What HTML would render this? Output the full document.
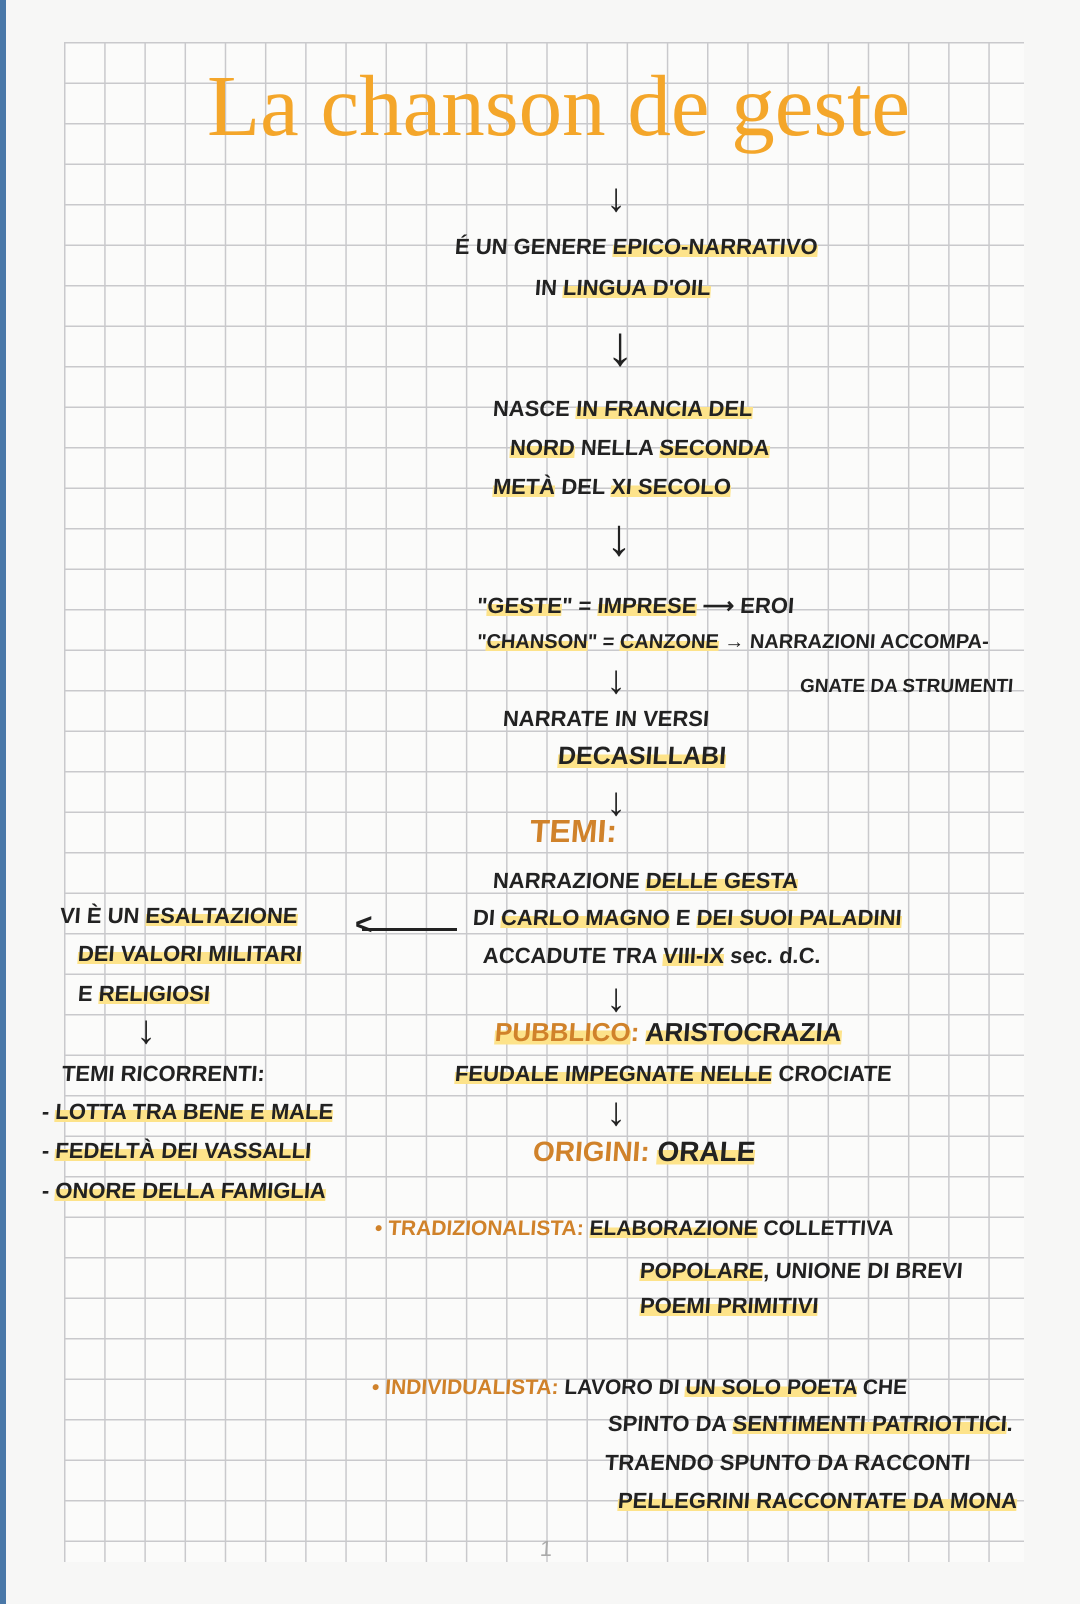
<!DOCTYPE html>
<html><head><meta charset="utf-8"><style>
body{margin:0;width:1080px;height:1604px;background:#f7f7f6;position:relative;overflow:hidden;font-family:"Liberation Sans",sans-serif;}
.bl{position:absolute;left:0;top:0;width:6px;height:1604px;background:#4a78a8}
.grid{position:absolute;left:64px;top:42px;width:960px;height:1520px;background-color:#fbfbfa;
background-image:linear-gradient(to right,#c9c9cc 1.5px,transparent 1.5px),linear-gradient(to bottom,#c9c9cc 1.5px,transparent 1.5px);
background-size:40.2px 40.5px;}
.t{position:absolute;color:#222;font-size:22px;font-weight:bold;white-space:nowrap;transform:skewX(-4deg);line-height:25px}
.h{background:linear-gradient(to bottom,transparent 45%,#fde38a 45%,#fde38a 92%,transparent 92%)}
.o{color:#d0822a}
.title{position:absolute;left:207px;top:55px;font-family:"Liberation Serif",serif;font-size:87px;color:#f4a62a;white-space:nowrap}
.ar{position:absolute;font-size:40px;color:#222;line-height:1;font-weight:bold}
</style></head><body>
<div class="bl"></div>
<div class="grid"></div>
<div class="title">La chanson de geste</div>
<div class="ar" style="left:606px;top:178px">↓</div>
<div class="t" style="left:455px;top:234px">É UN GENERE <span class="h">EPICO-NARRATIVO</span></div>
<div class="t" style="left:535px;top:275px">IN <span class="h">LINGUA D'OIL</span></div>
<div class="ar" style="left:606px;top:318px;font-size:56px">↓</div>
<div class="t" style="left:493px;top:396px">NASCE <span class="h">IN FRANCIA DEL</span></div>
<div class="t" style="left:510px;top:435px"><span class="h">NORD</span> NELLA <span class="h">SECONDA</span></div>
<div class="t" style="left:493px;top:474px"><span class="h">METÀ</span> DEL <span class="h">XI SECOLO</span></div>
<div class="ar" style="left:606px;top:512px;font-size:52px">↓</div>
<div class="t" style="left:477px;top:593px">"<span class="h">GESTE</span>" = <span class="h">IMPRESE</span> ⟶ EROI</div>
<div class="t" style="left:477px;top:630px;font-size:20px">"<span class="h">CHANSON</span>" = <span class="h">CANZONE</span> → NARRAZIONI ACCOMPA-</div>
<div class="t" style="left:800px;top:674px;font-size:19px">GNATE DA STRUMENTI</div>
<div class="ar" style="left:606px;top:660px">↓</div>
<div class="t" style="left:503px;top:706px">NARRATE IN VERSI</div>
<div class="t" style="left:558px;top:744px;font-size:25px"><span class="h">DECASILLABI</span></div>
<div class="ar" style="left:606px;top:782px">↓</div>
<div class="t o" style="left:530px;top:815px;font-size:32px;line-height:32px">TEMI:</div>
<div class="t" style="left:493px;top:868px">NARRAZIONE <span class="h">DELLE GESTA</span></div>
<div class="t" style="left:473px;top:905px">DI <span class="h">CARLO MAGNO</span> E <span class="h">DEI SUOI PALADINI</span></div>
<div class="t" style="left:483px;top:943px">ACCADUTE TRA <span class="h">VIII-IX</span> sec. d.C.</div>
<div class="ar" style="left:606px;top:978px">↓</div>
<div class="t o" style="left:495px;top:1017px;font-size:26px;line-height:30px"><span class="h">PUBBLICO</span>: <span style="color:#222" class="h">ARISTOCRAZIA</span></div>
<div class="t" style="left:455px;top:1061px"><span class="h">FEUDALE IMPEGNATE NELLE</span> CROCIATE</div>
<div class="ar" style="left:606px;top:1092px">↓</div>
<div class="t o" style="left:533px;top:1136px;font-size:28px;line-height:32px">ORIGINI: <span style="color:#222" class="h">ORALE</span></div>
<div class="t" style="left:60px;top:903px">VI È UN <span class="h">ESALTAZIONE</span></div>
<div class="t" style="left:78px;top:941px"><span class="h">DEI VALORI MILITARI</span></div>
<div class="t" style="left:78px;top:981px">E <span class="h">RELIGIOSI</span></div>
<div style="position:absolute;left:362px;top:928px;width:95px;height:3px;background:#222"></div>
<div class="ar" style="left:355px;top:910px;font-size:30px">&lt;</div>
<div class="ar" style="left:136px;top:1010px">↓</div>
<div class="t" style="left:62px;top:1061px">TEMI RICORRENTI:</div>
<div class="t" style="left:42px;top:1099px">- <span class="h">LOTTA TRA BENE E MALE</span></div>
<div class="t" style="left:42px;top:1138px">- <span class="h">FEDELTÀ DEI VASSALLI</span></div>
<div class="t" style="left:42px;top:1178px">- <span class="h">ONORE DELLA FAMIGLIA</span></div>
<div class="t o" style="left:375px;top:1216px;font-size:21px">• TRADIZIONALISTA: <span style="color:#222"><span class="h">ELABORAZIONE</span> COLLETTIVA</span></div>
<div class="t" style="left:640px;top:1258px"><span class="h">POPOLARE</span>, UNIONE DI BREVI</div>
<div class="t" style="left:640px;top:1293px"><span class="h">POEMI PRIMITIVI</span></div>
<div class="t o" style="left:372px;top:1375px;font-size:21px">• INDIVIDUALISTA: <span style="color:#222">LAVORO DI <span class="h">UN SOLO POETA</span> CHE</span></div>
<div class="t" style="left:608px;top:1411px">SPINTO DA <span class="h">SENTIMENTI PATRIOTTICI</span>.</div>
<div class="t" style="left:605px;top:1450px">TRAENDO SPUNTO DA RACCONTI</div>
<div class="t" style="left:618px;top:1488px"><span class="h">PELLEGRINI RACCONTATE DA MONA</span></div>
<div class="t" style="left:540px;top:1536px;color:#aaa;font-size:22px;font-weight:normal">1</div>
</body></html>
